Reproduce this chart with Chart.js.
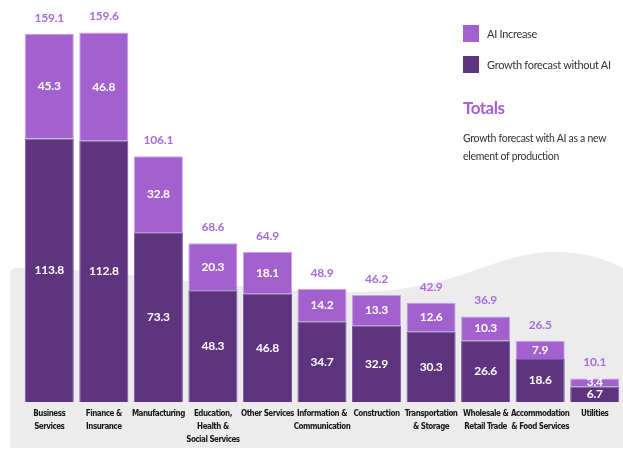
<!DOCTYPE html>
<html>
<head>
<meta charset="utf-8">
<script src="https://cdn.jsdelivr.net/npm/chart.js@4/dist/chart.umd.min.js"></script>
<style>
  html, body { margin: 0; padding: 0; background: #fff; }
  .wrap { position: relative; width: 623px; height: 449px; }
  canvas { position: absolute; left: 0; top: 0; }
  .side { position: absolute; left: 463px; top: 24px; font-family: Lato, sans-serif; color: #333; }
  .item { display: flex; align-items: center; height: 18px; margin-bottom: 13px; font-size: 11px; letter-spacing: -0.3px; }
  .sw { width: 16px; height: 17px; margin-right: 8px; box-sizing: border-box; }
  .totals { font-size: 17px; font-weight: bold; color: #a65fd6; margin-top: 24px; letter-spacing: -0.5px; }
  .note { font-size: 10.5px; line-height: 18px; margin-top: 11px; letter-spacing: -0.3px; }
</style>
</head>
<body>
<div class="wrap">
  <canvas id="chart" width="623" height="449"></canvas>
  <div class="side">
    <div class="item"><span class="sw" id="swAi"></span><span id="lbAi"></span></div>
    <div class="item"><span class="sw" id="swBase"></span><span id="lbBase"></span></div>
    <div class="totals">Totals</div>
    <div class="note">Growth forecast with AI as a new<br>element of production</div>
  </div>
</div>
<script>
const categories = [
  ['Business', 'Services'],
  ['Finance &', 'Insurance'],
  'Manufacturing',
  ['Education,', 'Health &', 'Social Services'],
  'Other Services',
  ['Information &', 'Communication'],
  'Construction',
  ['Transportation', '& Storage'],
  ['Wholesale &', 'Retail Trade'],
  ['Accommodation', '& Food Services'],
  'Utilities'
];
const baseGrowth = [113.8, 112.8, 73.3, 48.3, 46.8, 34.7, 32.9, 30.3, 26.6, 18.6, 6.7];
const aiIncrease = [45.3, 46.8, 32.8, 20.3, 18.1, 14.2, 13.3, 12.6, 10.3, 7.9, 3.4];
const totals = [159.1, 159.6, 106.1, 68.6, 64.9, 48.9, 46.2, 42.9, 36.9, 26.5, 10.1];

const darkPurple = '#5e347e';
const lightPurple = '#a261cf';
const totalColor = '#a86ddb';

document.getElementById('swAi').style.background = lightPurple;
document.getElementById('swBase').style.background = darkPurple;
document.getElementById('lbAi').textContent = 'AI Increase';
document.getElementById('lbBase').textContent = 'Growth forecast without AI';

// grey wave behind everything
const backdrop = {
  id: 'backdrop',
  beforeDraw(chart) {
    const ctx = chart.ctx;
    ctx.save();
    ctx.fillStyle = '#ececec';
    ctx.beginPath();
    ctx.moveTo(10, 448);
    ctx.lineTo(10, 274);
    ctx.quadraticCurveTo(10, 268, 18, 268);
    ctx.bezierCurveTo(150, 270, 280, 300, 390, 290);
    ctx.bezierCurveTo(470, 282, 500, 252, 555, 252);
    ctx.bezierCurveTo(590, 252, 610, 262, 623, 268);
    ctx.lineTo(623, 448);
    ctx.closePath();
    ctx.fill();
    ctx.restore();
    // tighter tick labels, like the condensed face in the original
    ctx.letterSpacing = '-0.5px';
  }
};

const valueLabels = {
  id: 'valueLabels',
  afterDatasetsDraw(chart) {
    const ctx = chart.ctx;
    ctx.save();
    ctx.letterSpacing = '-0.2px';
    ctx.textAlign = 'center';
    ctx.textBaseline = 'middle';
    ctx.font = 'bold 12px Lato, sans-serif';
    ctx.fillStyle = '#fff';
    chart.data.datasets.forEach((ds, di) => {
      chart.getDatasetMeta(di).data.forEach((bar, i) => {
        const mid = (bar.y + bar.base) / 2;
        ctx.fillText(ds.data[i].toFixed(1), bar.x, mid);
      });
    });
    ctx.fillStyle = totalColor;
    const top = chart.getDatasetMeta(1).data;
    top.forEach((bar, i) => {
      ctx.fillText(totals[i].toFixed(1), bar.x, bar.y - 16);
    });
    ctx.restore();
  }
};

new Chart(document.getElementById('chart'), {
  type: 'bar',
  data: {
    labels: categories,
    datasets: [
      {
        label: 'Growth forecast without AI',
        data: baseGrowth,
        backgroundColor: darkPurple,
        borderColor: '#7a56a0',
        borderWidth: 1,
        categoryPercentage: 0.9,
        barPercentage: 1
      },
      {
        label: 'AI Increase',
        data: aiIncrease,
        backgroundColor: lightPurple,
        borderColor: '#c7a2e6',
        borderWidth: 1,
        categoryPercentage: 0.9,
        barPercentage: 1
      }
    ]
  },
  options: {
    responsive: false,
    animation: false,
    layout: { padding: { left: 22, right: 1, top: 20, bottom: 0 } },
    plugins: {
      legend: { display: false },
      tooltip: { enabled: false }
    },
    scales: {
      x: {
        stacked: true,
        grid: { display: false, drawTicks: false },
        border: { display: false },
        ticks: {
          autoSkip: false,
          maxRotation: 0,
          padding: 5,
          color: '#1a1a1a',
          font: { family: '"DejaVu Sans Condensed", Roboto, sans-serif', size: 8, weight: 'bold', lineHeight: '13px' }
        },
        afterFit(scale) { scale.height = 47; }
      },
      y: {
        stacked: true,
        display: false,
        min: 0,
        max: 165
      }
    }
  },
  plugins: [backdrop, valueLabels]
});
</script>
</body>
</html>
